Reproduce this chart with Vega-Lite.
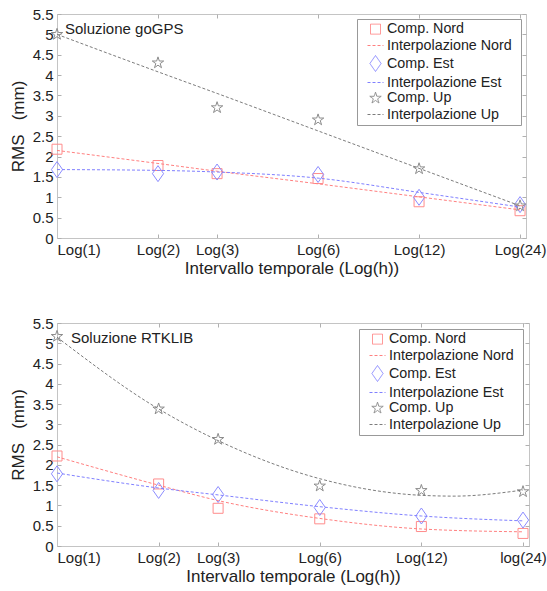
{
  "$schema": "https://vega.github.io/schema/vega-lite/v6.json",
  "padding": {"left": 8, "top": 6, "right": 5, "bottom": 5},
  "datasets": {
    "gogps": [
      {"h": 1, "serie": "Comp. Nord", "rms": 2.18},
      {"h": 2, "serie": "Comp. Nord", "rms": 1.78},
      {"h": 3, "serie": "Comp. Nord", "rms": 1.58},
      {"h": 6, "serie": "Comp. Nord", "rms": 1.46},
      {"h": 12, "serie": "Comp. Nord", "rms": 0.89},
      {"h": 24, "serie": "Comp. Nord", "rms": 0.67},
      {"h": 1, "serie": "Comp. Est", "rms": 1.68},
      {"h": 2, "serie": "Comp. Est", "rms": 1.58},
      {"h": 3, "serie": "Comp. Est", "rms": 1.62},
      {"h": 6, "serie": "Comp. Est", "rms": 1.56},
      {"h": 12, "serie": "Comp. Est", "rms": 1.0},
      {"h": 24, "serie": "Comp. Est", "rms": 0.82},
      {"h": 1, "serie": "Comp. Up", "rms": 5.0},
      {"h": 2, "serie": "Comp. Up", "rms": 4.3},
      {"h": 3, "serie": "Comp. Up", "rms": 3.2},
      {"h": 6, "serie": "Comp. Up", "rms": 2.9},
      {"h": 12, "serie": "Comp. Up", "rms": 1.7},
      {"h": 24, "serie": "Comp. Up", "rms": 0.79},
      {"h": 1, "serie": "Interpolazione Nord", "rms": 2.15},
      {"h": 2, "serie": "Interpolazione Nord", "rms": 1.83},
      {"h": 3, "serie": "Interpolazione Nord", "rms": 1.64},
      {"h": 6, "serie": "Interpolazione Nord", "rms": 1.33},
      {"h": 12, "serie": "Interpolazione Nord", "rms": 1.01},
      {"h": 24, "serie": "Interpolazione Nord", "rms": 0.69},
      {"h": 1, "serie": "Interpolazione Est", "rms": 1.68},
      {"h": 2, "serie": "Interpolazione Est", "rms": 1.66},
      {"h": 3, "serie": "Interpolazione Est", "rms": 1.62},
      {"h": 6, "serie": "Interpolazione Est", "rms": 1.47},
      {"h": 12, "serie": "Interpolazione Est", "rms": 1.12},
      {"h": 24, "serie": "Interpolazione Est", "rms": 0.76},
      {"h": 1, "serie": "Interpolazione Up", "rms": 5.0},
      {"h": 2, "serie": "Interpolazione Up", "rms": 4.08},
      {"h": 3, "serie": "Interpolazione Up", "rms": 3.55},
      {"h": 6, "serie": "Interpolazione Up", "rms": 2.63},
      {"h": 12, "serie": "Interpolazione Up", "rms": 1.71},
      {"h": 24, "serie": "Interpolazione Up", "rms": 0.79}
    ],
    "rtklib": [
      {"h": 1, "serie": "Comp. Nord", "rms": 2.22},
      {"h": 2, "serie": "Comp. Nord", "rms": 1.53},
      {"h": 3, "serie": "Comp. Nord", "rms": 0.93},
      {"h": 6, "serie": "Comp. Nord", "rms": 0.67},
      {"h": 12, "serie": "Comp. Nord", "rms": 0.48},
      {"h": 24, "serie": "Comp. Nord", "rms": 0.31},
      {"h": 1, "serie": "Comp. Est", "rms": 1.78},
      {"h": 2, "serie": "Comp. Est", "rms": 1.37},
      {"h": 3, "serie": "Comp. Est", "rms": 1.27},
      {"h": 6, "serie": "Comp. Est", "rms": 0.95},
      {"h": 12, "serie": "Comp. Est", "rms": 0.74},
      {"h": 24, "serie": "Comp. Est", "rms": 0.64},
      {"h": 1, "serie": "Comp. Up", "rms": 5.17},
      {"h": 2, "serie": "Comp. Up", "rms": 3.38},
      {"h": 3, "serie": "Comp. Up", "rms": 2.63},
      {"h": 6, "serie": "Comp. Up", "rms": 1.48},
      {"h": 12, "serie": "Comp. Up", "rms": 1.37},
      {"h": 24, "serie": "Comp. Up", "rms": 1.34},
      {"h": 1, "serie": "Interpolazione Nord", "rms": 2.2},
      {"h": 2, "serie": "Interpolazione Nord", "rms": 1.5},
      {"h": 3, "serie": "Interpolazione Nord", "rms": 1.12},
      {"h": 6, "serie": "Interpolazione Nord", "rms": 0.68},
      {"h": 12, "serie": "Interpolazione Nord", "rms": 0.42},
      {"h": 24, "serie": "Interpolazione Nord", "rms": 0.35},
      {"h": 1, "serie": "Interpolazione Est", "rms": 1.8},
      {"h": 2, "serie": "Interpolazione Est", "rms": 1.43},
      {"h": 3, "serie": "Interpolazione Est", "rms": 1.26},
      {"h": 6, "serie": "Interpolazione Est", "rms": 0.97},
      {"h": 12, "serie": "Interpolazione Est", "rms": 0.74},
      {"h": 24, "serie": "Interpolazione Est", "rms": 0.62},
      {"h": 1, "serie": "Interpolazione Up", "rms": 5.15},
      {"h": 2, "serie": "Interpolazione Up", "rms": 3.38},
      {"h": 3, "serie": "Interpolazione Up", "rms": 2.6},
      {"h": 6, "serie": "Interpolazione Up", "rms": 1.66},
      {"h": 12, "serie": "Interpolazione Up", "rms": 1.25},
      {"h": 15, "serie": "Interpolazione Up", "rms": 1.23},
      {"h": 24, "serie": "Interpolazione Up", "rms": 1.38}
    ]
  },
  "spacing": 38,
  "resolve": {
    "scale": {"x": "independent", "y": "independent", "color": "independent", "shape": "independent", "strokeDash": "independent", "size": "independent"},
    "legend": {"color": "independent", "shape": "independent", "strokeDash": "independent", "size": "independent"}
  },
  "vconcat": [
    {
      "width": 469,
      "height": 224,
      "data": {"name": "gogps"},
      "resolve": {"axis": {"x": "independent", "y": "independent"}},
      "layer": [
        {
          "transform": [{"filter": "indexof(datum.serie, 'Comp.') === 0"}],
          "mark": {"type": "point", "filled": false, "strokeWidth": 1, "opacity": 1},
          "encoding": {
            "x": {"field": "h", "type": "quantitative", "scale": {"type": "log", "domain": [1, 25], "nice": false},
              "axis": {"values": [1, 2, 3, 6, 12, 24], "labelExpr": "'Log(' + datum.value + ')'", "title": "Intervallo temporale (Log(h))"}},
            "y": {"field": "rms", "type": "quantitative", "scale": {"domain": [0, 5.5], "nice": false},
              "axis": {"values": [0, 0.5, 1, 1.5, 2, 2.5, 3, 3.5, 4, 4.5, 5, 5.5], "format": "~g", "title": "RMS\u00a0\u00a0\u00a0(mm)"}},
            "color": {"field": "serie", "type": "nominal",
              "scale": {"domain": ["Comp. Nord", "Interpolazione Nord", "Comp. Est", "Interpolazione Est", "Comp. Up", "Interpolazione Up"],
                "range": ["#ff8c8c", "#ff8080", "#8c8cff", "#8080ff", "#8c8c8c", "#7c7c7c"]},
              "legend": {"orient": "top-right", "offset": 5, "title": "\u00a0", "titleOrient": "right", "titlePadding": 6}},
            "shape": {"field": "serie", "type": "nominal",
              "scale": {"domain": ["Comp. Nord", "Interpolazione Nord", "Comp. Est", "Interpolazione Est", "Comp. Up", "Interpolazione Up"],
                "range": ["square", "stroke", "M0,-1L0.7,0L0,1L-0.7,0Z", "stroke", "M0,-1L0.2245,-0.309L0.951,-0.309L0.363,0.118L0.588,0.809L0,0.382L-0.588,0.809L-0.363,0.118L-0.951,-0.309L-0.2245,-0.309Z", "stroke"]},
              "legend": {"orient": "top-right", "offset": 5, "title": "\u00a0", "titleOrient": "right", "titlePadding": 6}},
            "size": {"field": "serie", "type": "nominal",
              "scale": {"type": "ordinal", "domain": ["Comp. Nord", "Interpolazione Nord", "Comp. Est", "Interpolazione Est", "Comp. Up", "Interpolazione Up"],
                "range": [100, 256, 256, 256, 144, 256]},
              "legend": {"orient": "top-right", "offset": 5, "title": "\u00a0", "titleOrient": "right", "titlePadding": 6}}
          }
        },
        {
          "transform": [{"filter": "indexof(datum.serie, 'Interp') === 0"}],
          "mark": {"type": "line", "strokeWidth": 1, "interpolate": "monotone"},
          "encoding": {
            "x": {"field": "h", "type": "quantitative", "scale": {"type": "log", "domain": [1, 25], "nice": false}, "axis": null},
            "y": {"field": "rms", "type": "quantitative", "scale": {"domain": [0, 5.5], "nice": false}, "axis": null},
            "color": {"field": "serie", "type": "nominal",
              "scale": {"domain": ["Comp. Nord", "Interpolazione Nord", "Comp. Est", "Interpolazione Est", "Comp. Up", "Interpolazione Up"],
                "range": ["#ff8c8c", "#ff8080", "#8c8cff", "#8080ff", "#8c8c8c", "#7c7c7c"]},
              "legend": {"orient": "top-right", "offset": 5, "title": "\u00a0", "titleOrient": "right", "titlePadding": 6}},
            "strokeDash": {"field": "serie", "type": "nominal",
              "scale": {"domain": ["Comp. Nord", "Interpolazione Nord", "Comp. Est", "Interpolazione Est", "Comp. Up", "Interpolazione Up"],
                "range": [[1, 0], [3, 2], [1, 0], [3, 2], [1, 0], [3, 2]]},
              "legend": {"orient": "top-right", "offset": 5, "title": "\u00a0", "titleOrient": "right", "titlePadding": 6}}
          }
        },
        {
          "data": {"values": [{"titolo": "Soluzione goGPS"}]},
          "mark": {"type": "text", "align": "left", "baseline": "middle", "dx": 8, "fontSize": 15, "color": "#222"},
          "encoding": {
            "x": {"datum": 1, "type": "quantitative", "scale": {"type": "log", "domain": [1, 25], "nice": false},
              "axis": {"orient": "top", "values": [1, 2, 3, 6, 12, 24], "labels": false, "title": null, "domain": false}},
            "y": {"datum": 5.12, "type": "quantitative", "scale": {"domain": [0, 5.5], "nice": false},
              "axis": {"orient": "right", "values": [0, 0.5, 1, 1.5, 2, 2.5, 3, 3.5, 4, 4.5, 5, 5.5], "labels": false, "title": null, "domain": false}},
            "text": {"field": "titolo"}
          }
        }
      ]
    },
    {
      "width": 472,
      "height": 223,
      "data": {"name": "rtklib"},
      "resolve": {"axis": {"x": "independent", "y": "independent"}},
      "layer": [
        {
          "transform": [{"filter": "indexof(datum.serie, 'Comp.') === 0"}],
          "mark": {"type": "point", "filled": false, "strokeWidth": 1, "opacity": 1},
          "encoding": {
            "x": {"field": "h", "type": "quantitative", "scale": {"type": "log", "domain": [1, 25], "nice": false},
              "axis": {"values": [1, 2, 3, 6, 12, 24], "labelExpr": "datum.value == 24 ? 'log(24)' : 'Log(' + datum.value + ')'", "title": "Intervallo temporale (Log(h))"}},
            "y": {"field": "rms", "type": "quantitative", "scale": {"domain": [0, 5.5], "nice": false},
              "axis": {"values": [0, 0.5, 1, 1.5, 2, 2.5, 3, 3.5, 4, 4.5, 5, 5.5], "format": "~g", "title": "RMS\u00a0\u00a0\u00a0(mm)"}},
            "color": {"field": "serie", "type": "nominal",
              "scale": {"domain": ["Comp. Nord", "Interpolazione Nord", "Comp. Est", "Interpolazione Est", "Comp. Up", "Interpolazione Up"],
                "range": ["#ff8c8c", "#ff8080", "#8c8cff", "#8080ff", "#8c8c8c", "#7c7c7c"]},
              "legend": {"orient": "top-right", "offset": 6, "title": "\u00a0", "titleOrient": "right", "titlePadding": 6}},
            "shape": {"field": "serie", "type": "nominal",
              "scale": {"domain": ["Comp. Nord", "Interpolazione Nord", "Comp. Est", "Interpolazione Est", "Comp. Up", "Interpolazione Up"],
                "range": ["square", "stroke", "M0,-1L0.7,0L0,1L-0.7,0Z", "stroke", "M0,-1L0.2245,-0.309L0.951,-0.309L0.363,0.118L0.588,0.809L0,0.382L-0.588,0.809L-0.363,0.118L-0.951,-0.309L-0.2245,-0.309Z", "stroke"]},
              "legend": {"orient": "top-right", "offset": 6, "title": "\u00a0", "titleOrient": "right", "titlePadding": 6}},
            "size": {"field": "serie", "type": "nominal",
              "scale": {"type": "ordinal", "domain": ["Comp. Nord", "Interpolazione Nord", "Comp. Est", "Interpolazione Est", "Comp. Up", "Interpolazione Up"],
                "range": [100, 256, 256, 256, 144, 256]},
              "legend": {"orient": "top-right", "offset": 6, "title": "\u00a0", "titleOrient": "right", "titlePadding": 6}}
          }
        },
        {
          "transform": [{"filter": "indexof(datum.serie, 'Interp') === 0"}],
          "mark": {"type": "line", "strokeWidth": 1, "interpolate": "monotone"},
          "encoding": {
            "x": {"field": "h", "type": "quantitative", "scale": {"type": "log", "domain": [1, 25], "nice": false}, "axis": null},
            "y": {"field": "rms", "type": "quantitative", "scale": {"domain": [0, 5.5], "nice": false}, "axis": null},
            "color": {"field": "serie", "type": "nominal",
              "scale": {"domain": ["Comp. Nord", "Interpolazione Nord", "Comp. Est", "Interpolazione Est", "Comp. Up", "Interpolazione Up"],
                "range": ["#ff8c8c", "#ff8080", "#8c8cff", "#8080ff", "#8c8c8c", "#7c7c7c"]},
              "legend": {"orient": "top-right", "offset": 6, "title": "\u00a0", "titleOrient": "right", "titlePadding": 6}},
            "strokeDash": {"field": "serie", "type": "nominal",
              "scale": {"domain": ["Comp. Nord", "Interpolazione Nord", "Comp. Est", "Interpolazione Est", "Comp. Up", "Interpolazione Up"],
                "range": [[1, 0], [3, 2], [1, 0], [3, 2], [1, 0], [3, 2]]},
              "legend": {"orient": "top-right", "offset": 6, "title": "\u00a0", "titleOrient": "right", "titlePadding": 6}}
          }
        },
        {
          "data": {"values": [{"titolo": "Soluzione RTKLIB"}]},
          "mark": {"type": "text", "align": "left", "baseline": "middle", "dx": 14, "fontSize": 15, "color": "#222"},
          "encoding": {
            "x": {"datum": 1, "type": "quantitative", "scale": {"type": "log", "domain": [1, 25], "nice": false},
              "axis": {"orient": "top", "values": [1, 2, 3, 6, 12, 24], "labels": false, "title": null, "domain": false}},
            "y": {"datum": 5.12, "type": "quantitative", "scale": {"domain": [0, 5.5], "nice": false},
              "axis": {"orient": "right", "values": [0, 0.5, 1, 1.5, 2, 2.5, 3, 3.5, 4, 4.5, 5, 5.5], "labels": false, "title": null, "domain": false}},
            "text": {"field": "titolo"}
          }
        }
      ]
    }
  ],
  "config": {
    "font": "Liberation Sans",
    "view": {"stroke": "#c4c4c4", "strokeWidth": 1},
    "axis": {
      "grid": false,
      "domainColor": "#c4c4c4",
      "tickColor": "#b0b0b0",
      "tickSize": -4,
      "labelPadding": 8,
      "labelColor": "#222222",
      "titleColor": "#222222",
      "labelFontSize": 15,
      "titleFontSize": 17,
      "titleFontWeight": "normal",
      "labelFont": "Liberation Sans",
      "titleFont": "Liberation Sans"
    },
    "axisX": {"titlePadding": 3},
    "axisY": {"titlePadding": 5},
    "legend": {
      "labelFontSize": 14.3,
      "labelColor": "#222222",
      "labelFont": "Liberation Sans",
      "titleFontSize": 14,
      "titleFont": "Liberation Sans",
      "strokeColor": "#999999",
      "fillColor": "white",
      "padding": 3,
      "symbolOffset": 7,
      "labelOffset": 3,
      "rowPadding": 0,
      "symbolStrokeWidth": 1
    }
  }
}
